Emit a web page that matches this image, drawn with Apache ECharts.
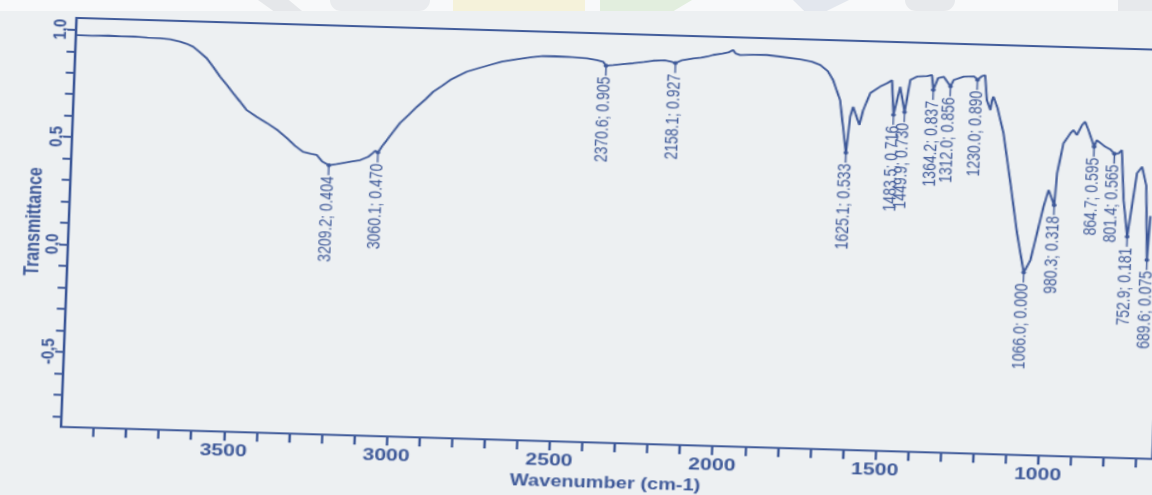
<!DOCTYPE html>
<html>
<head>
<meta charset="utf-8">
<title>IR spectrum</title>
<script src="https://cdn.jsdelivr.net/npm/echarts@6.0.0/dist/echarts.min.js"></script>
<style>
  html, body { margin: 0; padding: 0; width: 1152px; height: 495px; overflow: hidden; background: #edf0f2; }
  #band { position: absolute; left: 0; top: 0; width: 1152px; height: 11px; background: #f8f9fa; }
  #band span { position: absolute; top: 0; height: 11px; opacity: 0.7; }
  /* the printed sheet sits slightly skewed and stretched on the scanner */
  #chart {
    position: absolute; left: 0; top: 0; width: 1000px; height: 520px;
    transform-origin: 0 0;
    transform: matrix(1.25, 0.03675, -0.0379, 1, 7.33, -6.16);
  }
</style>
</head>
<body>
<div id="band">
  <span style="left:258px;width:44px;background:#dde0e3;clip-path:polygon(0 0,70% 0,100% 100%,35% 100%);"></span>
  <span style="left:330px;width:100px;background:#e2e5e8;border-radius:0 0 40px 40px;"></span>
  <span style="left:453px;width:132px;background:#f4f0cc;"></span>
  <span style="left:600px;width:92px;background:#d9ead2;clip-path:polygon(0 0,100% 0,80% 100%,0 100%);"></span>
  <span style="left:793px;width:56px;background:#dadfe8;clip-path:polygon(0 0,100% 0,60% 100%,20% 100%);"></span>
  <span style="left:905px;width:50px;background:#e0e3e6;border-radius:0 0 30px 30px;"></span>
  <span style="left:1118px;width:34px;background:#e0e3e6;"></span>
</div>
<div id="chart"></div>
<script>
// Axis ticks and labels
const TICK_WAVENUMBERS = [3900, 3800, 3700, 3600, 3500, 3400, 3300, 3200, 3100, 3000,
  2900, 2800, 2700, 2600, 2500, 2400, 2300, 2200, 2100, 2000,
  1900, 1800, 1700, 1600, 1500, 1400, 1300, 1200, 1100, 1000, 900, 800, 700];
const LABEL_WAVENUMBERS = [3500, 3000, 2500, 2000, 1500, 1000];
const TICK_TRANSMITTANCE = [-0.8, -0.7, -0.6, -0.5, -0.4, -0.3, -0.2, -0.1, 0,
  0.1, 0.2, 0.3, 0.4, 0.5, 0.6, 0.7, 0.8, 0.9, 1.0];
const LABEL_TRANSMITTANCE = [-0.5, 0, 0.5, 1.0];

// Spectrum: [wavenumber (cm-1), transmittance]
const spectrum = [
  [4000,0.975],[3950,0.974],[3900,0.977],[3860,0.975],[3820,0.976],[3780,0.973],[3741,0.972],
  [3710,0.968],[3680,0.959],[3660,0.950],[3639,0.937],[3620,0.915],[3596,0.885],[3575,0.845],
  [3553,0.801],[3530,0.762],[3511,0.727],[3490,0.690],[3467,0.649],[3435,0.618],[3404,0.592],
  [3370,0.560],[3341,0.525],[3315,0.490],[3290,0.463],[3265,0.455],[3247,0.450],[3230,0.420],
  [3209.2,0.404],[3185,0.410],[3166,0.416],[3140,0.424],[3114,0.432],[3090,0.448],[3075,0.468],
  [3068,0.478],[3060.1,0.470],[3048,0.500],[3034,0.529],[3015,0.570],[2996,0.610],[2970,0.650],
  [2946,0.688],[2920,0.725],[2898,0.760],[2870,0.790],[2847,0.817],[2820,0.840],[2797,0.858],
  [2760,0.877],[2726,0.893],[2690,0.910],[2645,0.923],[2600,0.934],[2565,0.941],[2530,0.942],
  [2492,0.941],[2460,0.939],[2430,0.937],[2400,0.930],[2380,0.923],[2370.6,0.905],[2349,0.909],
  [2320,0.915],[2288,0.920],[2255,0.927],[2227,0.935],[2190,0.938],[2170,0.932],[2158.1,0.927],
  [2140,0.940],[2104,0.951],[2080,0.955],[2060,0.962],[2043,0.970],[2015,0.978],[1995,0.985],
  [1983,0.996],[1975,0.980],[1961,0.973],[1920,0.976],[1879,0.977],[1830,0.970],[1776,0.961],
  [1740,0.952],[1714,0.938],[1690,0.910],[1673,0.870],[1649,0.777],[1625.1,0.533],[1616,0.701],
  [1608,0.748],[1587,0.664],[1577,0.734],[1557,0.814],[1528,0.845],[1507,0.862],[1492,0.877],
  [1483.5,0.716],[1466,0.847],[1449.9,0.730],[1436,0.880],[1416,0.897],[1385,0.901],[1370,0.906],
  [1364.2,0.837],[1351,0.893],[1334,0.900],[1312.0,0.856],[1303,0.886],[1273,0.903],[1240,0.905],
  [1230.0,0.890],[1217,0.908],[1207,0.913],[1199,0.797],[1187,0.751],[1183,0.797],[1179,0.814],
  [1165,0.760],[1144,0.645],[1117,0.414],[1091,0.182],[1066.0,0.000],[1047,0.058],[1013,0.308],
  [999,0.387],[980.3,0.318],[975,0.466],[959,0.606],[939,0.654],[930,0.670],[919,0.647],
  [904,0.694],[895,0.710],[884,0.672],[864.7,0.595],[857,0.626],[830,0.596],[815,0.585],
  [801.4,0.565],[789,0.567],[779,0.583],[768,0.351],[752.9,0.181],[730,0.477],[715,0.508],
  [700,0.420],[689.6,0.075],[684,0.280]
];

// Picked peaks
const peakWavenumbers = [3209.2, 3060.1, 2370.6, 2158.1, 1625.1, 1483.5, 1449.9, 1364.2,
  1312.0, 1230.0, 1066.0, 980.3, 864.7, 801.4, 752.9, 689.6];
const peakTransmittance = [0.404, 0.470, 0.905, 0.927, 0.533, 0.716, 0.730, 0.837,
  0.856, 0.890, 0.000, 0.318, 0.595, 0.565, 0.181, 0.075];

const INK = '#3d5898';
const FONT = '"Liberation Sans", Arial, sans-serif';

const peaks = peakWavenumbers.map((w, i) => [w, peakTransmittance[i]]);

function renderPeak(params, api) {
  const wn = api.value(0);
  const t = api.value(1);
  const p = api.coord([wn, t]);
  const label = wn.toFixed(1) + '; ' + t.toFixed(3);
  return {
    type: 'group',
    children: [
      { type: 'line', shape: { x1: p[0], y1: p[1], x2: p[0], y2: p[1] + 10 },
        style: { stroke: INK, lineWidth: 1.2 } },
      { type: 'circle', shape: { cx: p[0], cy: p[1], r: 1.9 }, style: { fill: INK } },
      { type: 'text', x: p[0], y: p[1] + 11, rotation: Math.PI / 2,
        style: { text: label, fill: INK, fontSize: 14, fontFamily: FONT,
                 align: 'right', verticalAlign: 'middle',
                 textAlign: 'right', textVerticalAlign: 'middle' } }
    ]
  };
}

const chart = echarts.init(document.getElementById('chart'), null, { renderer: 'canvas' });
chart.setOption({
  animation: false,
  backgroundColor: 'transparent',
  grid: { left: 56, top: 22, width: 873, height: 409, show: true,
          borderColor: INK, borderWidth: 2, backgroundColor: 'transparent' },
  xAxis: {
    type: 'value', min: 650, max: 4000, inverse: true,
    name: 'Wavenumber (cm-1)', nameLocation: 'middle', nameGap: 33, nameMoveOverlap: false,
    nameTextStyle: { color: INK, fontSize: 16, fontWeight: 'bold', fontFamily: FONT },
    axisLine: { show: true, onZero: false, lineStyle: { color: INK, width: 2 } },
    axisTick: { show: true, length: 9, lineStyle: { color: INK, width: 2 },
                customValues: TICK_WAVENUMBERS },
    axisLabel: { color: INK, fontSize: 17, fontWeight: 'bold', fontFamily: FONT, margin: 11,
                 customValues: LABEL_WAVENUMBERS, formatter: v => String(v) },
    splitLine: { show: false }
  },
  yAxis: {
    type: 'value', min: -0.85, max: 1.055,
    name: 'Transmittance', nameLocation: 'middle', nameGap: 19.5, nameRotate: 90,
    nameMoveOverlap: false,
    nameTextStyle: { color: INK, fontSize: 16, fontWeight: 'bold', fontFamily: FONT },
    axisLine: { show: true, onZero: false, lineStyle: { color: INK, width: 2 } },
    axisTick: { show: true, length: 7, lineStyle: { color: INK, width: 2 },
                customValues: TICK_TRANSMITTANCE },
    axisLabel: { color: INK, fontSize: 15, fontWeight: 'bold', fontFamily: FONT, margin: 5,
                 rotate: 90, customValues: LABEL_TRANSMITTANCE,
                 formatter: v => v.toFixed(1).replace('.', ',') },
    splitLine: { show: false }
  },
  series: [
    { type: 'line', data: spectrum, symbol: 'none', smooth: false,
      lineStyle: { color: INK, width: 1.8 }, clip: true },
    { type: 'custom', data: peaks, renderItem: renderPeak, clip: false,
      encode: { x: 0, y: 1 } }
  ]
});
</script>
</body>
</html>
